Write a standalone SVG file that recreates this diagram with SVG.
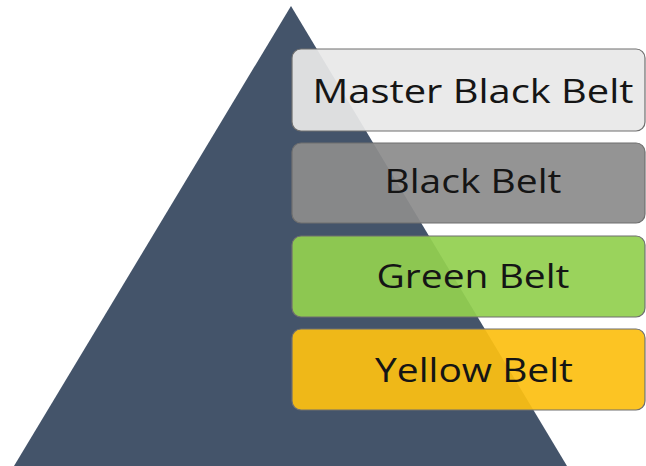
<svg xmlns="http://www.w3.org/2000/svg" width="646" height="466" viewBox="0 0 646 466">
<style>
.box{stroke:#6f6f6f;stroke-width:1.2;fill-opacity:0.93}
.lbl{font-family:"Open Sans","Liberation Sans",sans-serif;font-size:33px;fill:#151515;text-anchor:middle}
</style>
<rect width="646" height="466" fill="#ffffff"/>
<g id="pyramid">
<polygon points="291,6 567,466 14,466" fill="#44546a"/>
</g>
<g id="master">
<rect class="box" x="292" y="49" width="353" height="82" rx="9" fill="#e8e8e8"/>
<text class="lbl" x="473" y="103" textLength="321" lengthAdjust="spacingAndGlyphs">Master Black Belt</text>
</g>
<g id="black">
<rect class="box" x="292" y="143" width="353" height="80" rx="9" fill="#8c8c8c"/>
<text class="lbl" x="473" y="193" textLength="177" lengthAdjust="spacingAndGlyphs">Black Belt</text>
</g>
<g id="green">
<rect class="box" x="292" y="236" width="353" height="81" rx="9" fill="#92d050"/>
<text class="lbl" x="473" y="288" textLength="193" lengthAdjust="spacingAndGlyphs">Green Belt</text>
</g>
<g id="yellow">
<rect class="box" x="292" y="329" width="353" height="81" rx="9" fill="#fcbf12"/>
<text class="lbl" x="474" y="382" textLength="198" lengthAdjust="spacingAndGlyphs">Yellow Belt</text>
</g>
<g id="connectors"/>
</svg>
